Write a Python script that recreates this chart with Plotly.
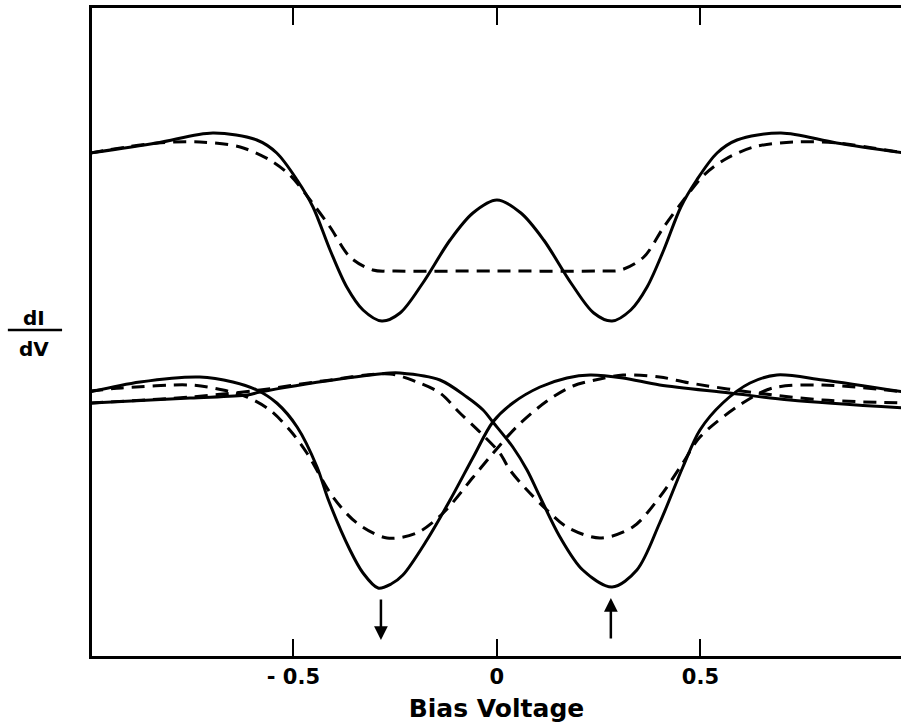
import plotly.graph_objects as go

# ---- data (bias voltage V, dI/dV in arbitrary units) ----
upper_solid_v = [-1.0, -0.835, -0.698, -0.59, -0.541, -0.491, -0.452, -0.41, -0.369, -0.329, -0.283, -0.238, -0.182, -0.115, -0.059, 0.0,
                 0.059, 0.115, 0.182, 0.238, 0.283, 0.329, 0.369, 0.41, 0.452, 0.491, 0.541, 0.59, 0.698, 0.835, 1.0]
upper_solid_y = [5.03, 5.13, 5.23, 5.16, 5.03, 4.76, 4.49, 4.06, 3.69, 3.46, 3.35, 3.43, 3.73, 4.16, 4.43, 4.56,
                 4.43, 4.16, 3.73, 3.43, 3.35, 3.46, 3.69, 4.06, 4.49, 4.76, 5.03, 5.16, 5.23, 5.13, 5.03]

upper_dash_v = [-1.0, -0.835, -0.73, -0.631, -0.558, -0.509, -0.459, -0.41, -0.361, -0.305, -0.25, 0.0,
                0.25, 0.305, 0.361, 0.41, 0.459, 0.509, 0.558, 0.631, 0.73, 0.835, 1.0]
upper_dash_y = [5.03, 5.13, 5.14, 5.09, 4.96, 4.81, 4.56, 4.29, 3.99, 3.86, 3.85, 3.85,
                3.85, 3.86, 3.99, 4.29, 4.56, 4.81, 4.96, 5.09, 5.14, 5.13, 5.03]

lower_a_v = [-1.0, -0.877, -0.73, -0.649, -0.59, -0.541, -0.491, -0.442, -0.414, -0.361, -0.329, -0.292, -0.26, -0.231,
             -0.172, -0.115, -0.058, -0.01, 0.039, 0.106, 0.172, 0.229, 0.31, 0.40, 0.572, 0.72, 1.0]
lower_a_y = [2.64, 2.74, 2.79, 2.74, 2.66, 2.53, 2.29, 1.89, 1.56, 1.06, 0.83, 0.68, 0.72, 0.81,
             1.16, 1.56, 1.99, 2.34, 2.53, 2.69, 2.78, 2.81, 2.78, 2.71, 2.63, 2.56, 2.48]

lower_b_v = [-1.0, -0.754, -0.614, -0.582, -0.386, -0.263, -0.238, -0.14, -0.074, -0.034, -0.01, 0.039, 0.074, 0.106,
             0.155, 0.211, 0.283, 0.344, 0.40, 0.457, 0.499, 0.555, 0.622, 0.688, 0.801, 1.0]
lower_b_y = [2.53, 2.58, 2.61, 2.64, 2.77, 2.83, 2.83, 2.76, 2.59, 2.46, 2.34, 2.09, 1.86, 1.59,
             1.19, 0.86, 0.69, 0.86, 1.33, 1.89, 2.26, 2.53, 2.73, 2.81, 2.76, 2.64]

lower_a_dash_v = [-1.0, -0.922, -0.754, -0.673, -0.614, -0.558, -0.509, -0.467, -0.403, -0.344, -0.27, -0.197, -0.132,
                  -0.058, -0.009, 0.048, 0.123, 0.187, 0.253, 0.31, 0.40, 0.474, 0.639, 0.801, 1.0]
lower_a_dash_y = [2.65, 2.68, 2.71, 2.66, 2.59, 2.46, 2.26, 2.03, 1.59, 1.33, 1.18, 1.23, 1.43,
                  1.79, 2.03, 2.29, 2.55, 2.70, 2.77, 2.81, 2.79, 2.73, 2.63, 2.56, 2.53]

lower_b_dash_v = [-1.0, -0.754, -0.582, -0.428, -0.263, -0.197, -0.14, -0.091, -0.042, 0.007, 0.032, 0.074, 0.123,
                  0.172, 0.253, 0.334, 0.40, 0.457, 0.499, 0.604, 0.678, 0.801, 1.0]
lower_b_dash_y = [2.53, 2.59, 2.66, 2.75, 2.82, 2.74, 2.63, 2.43, 2.24, 2.03, 1.86, 1.66, 1.46,
                  1.29, 1.18, 1.29, 1.59, 1.93, 2.19, 2.53, 2.68, 2.71, 2.64]

arrow_v = [-0.285, 0.28]
tick_vals = [-0.5, 0.0, 0.5]
tick_text = ["- 0.5", "0", "0.5"]

FONT = "DejaVu Sans"
solid = dict(color="black", width=3, shape="spline", smoothing=0.9)
dashed = dict(color="black", width=3, shape="spline", smoothing=0.9, dash="13px,8px")

fig = go.Figure()
for xv, yv, ln in [
    (upper_dash_v, upper_dash_y, dashed),
    (upper_solid_v, upper_solid_y, solid),
    (lower_a_dash_v, lower_a_dash_y, dashed),
    (lower_b_dash_v, lower_b_dash_y, dashed),
    (lower_a_v, lower_a_y, solid),
    (lower_b_v, lower_b_y, solid),
]:
    fig.add_trace(go.Scatter(x=xv, y=yv, mode="lines", line=ln, showlegend=False, hoverinfo="skip"))

# arrows marking the gap voltage
fig.add_annotation(x=arrow_v[0], y=0.16, ax=arrow_v[0], ay=0.58, xref="x", yref="y", axref="x", ayref="y",
                   showarrow=True, arrowhead=2, arrowsize=1.1, arrowwidth=2.5, arrowcolor="black", text="")
fig.add_annotation(x=arrow_v[1], y=0.58, ax=arrow_v[1], ay=0.16, xref="x", yref="y", axref="x", ayref="y",
                   showarrow=True, arrowhead=2, arrowsize=1.1, arrowwidth=2.5, arrowcolor="black", text="")

# dI/dV label
fig.add_annotation(x=-0.072, y=0.522, xref="paper", yref="paper", text="<b>dI</b>", showarrow=False,
                   font=dict(family=FONT, size=20, color="black"), xanchor="center", yanchor="middle")
fig.add_annotation(x=-0.072, y=0.474, xref="paper", yref="paper", text="<b>dV</b>", showarrow=False,
                   font=dict(family=FONT, size=20, color="black"), xanchor="center", yanchor="middle")
fig.add_shape(type="line", xref="paper", yref="paper", x0=-0.104, x1=-0.037, y0=0.503, y1=0.503,
              line=dict(color="black", width=2.5))

fig.update_layout(
    width=901, height=726,
    margin=dict(l=92, r=0, t=8, b=70),
    paper_bgcolor="white", plot_bgcolor="white",
    xaxis=dict(range=[-0.995, 0.993], tickvals=tick_vals, ticktext=tick_text,
               ticks="inside", ticklen=17, tickwidth=2, tickcolor="black",
               showline=True, linecolor="black", linewidth=2.5, mirror="allticks",
               showgrid=False, zeroline=False,
               tickfont=dict(family=FONT, size=21, color="black", weight="bold"),
               title=dict(text="Bias Voltage", standoff=12,
                          font=dict(family=FONT, size=25, color="black", weight="bold"))),
    yaxis=dict(range=[0, 6.48], showticklabels=False, ticks="", showgrid=False, zeroline=False,
               showline=True, linecolor="black", linewidth=2.5, mirror=False),
)

fig.write_html("out.html")
